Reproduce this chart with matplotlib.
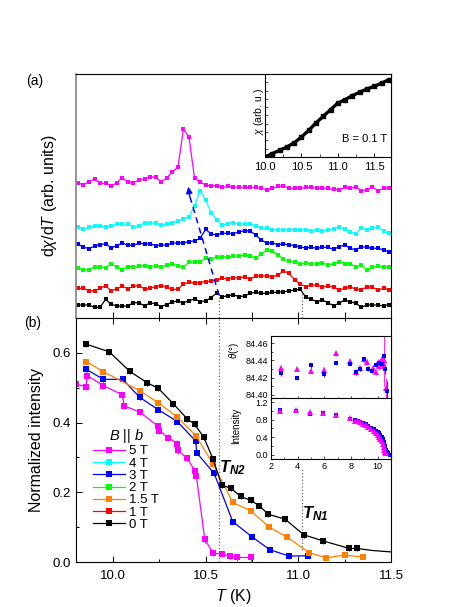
import matplotlib
matplotlib.use("Agg")
import matplotlib.pyplot as plt
from matplotlib.lines import Line2D
from matplotlib.ticker import MultipleLocator, FormatStrFormatter

plt.rcParams["font.family"] = ["Liberation Sans", "DejaVu Sans"]
plt.rcParams["mathtext.fontset"] = "custom"
plt.rcParams["mathtext.rm"] = "Liberation Sans"
plt.rcParams["mathtext.it"] = "Liberation Sans:italic"
plt.rcParams["mathtext.bf"] = "Liberation Sans:bold"
plt.rcParams["mathtext.bfit"] = "Liberation Sans:bold:italic"
plt.rcParams["xtick.direction"] = "in"
plt.rcParams["ytick.direction"] = "in"
plt.rcParams["axes.linewidth"] = 0.8

# ---- (a) dchi/dT, curves offset (arb. units) ----
T_a = [9.81, 9.84, 9.87, 9.90, 9.93, 9.96, 9.99, 10.02, 10.05, 10.08,
       10.11, 10.14, 10.17, 10.20, 10.23, 10.26, 10.29, 10.32, 10.35, 10.38,
       10.41, 10.44, 10.47, 10.50, 10.53, 10.56, 10.59, 10.62, 10.65, 10.68,
       10.71, 10.74, 10.77, 10.80, 10.83, 10.86, 10.89, 10.92, 10.95, 10.98,
       11.01, 11.04, 11.07, 11.10, 11.13, 11.16, 11.19, 11.22, 11.25, 11.28,
       11.31, 11.34, 11.37, 11.40, 11.43, 11.46, 11.49]

a_0T = [13, 13, 13, 10.7, 10.7, 18.7, 13.7, 12, 12, 12, 15.3, 15.3, 12, 15.3,
        14, 11.5, 13.5, 16, 17, 15, 17.5, 19, 16.5, 17, 20.5, 25, 21, 22.5,
        23, 21.5, 22, 24.7, 25.7, 24.7, 24.7, 25.7, 25.7, 26.3, 27, 28, 28.7,
        21, 18.7, 16.3, 18, 15.3, 12.3, 14.7, 18, 16.3, 14.7, 10.7, 13, 13, 13, 12, 13.5]
a_1T = [29.7, 29.7, 27.3, 27.2, 29.7, 32.3, 27.3, 29.3, 31.7, 29.3, 31.7, 32.5, 29, 29.7,
        31.5, 32.5, 31, 28.7, 28.7, 34, 36, 35, 35.5, 36.5, 37, 38, 39.7, 39.5,
        40.5, 40, 41.3, 38.7, 42, 42, 42, 41.3, 43, 47, 44.7, 38, 34, 31.3,
        33, 33, 31.3, 32, 31.3, 28, 29.7, 31.3, 28.7, 28, 31.3, 30.7, 28, 29.7, 28]
a_2T = [50, 48.5, 48, 51.5, 51, 50.5, 54, 51, 48.5, 51.5, 51.5, 52, 52.5, 51.5,
        52.5, 51.3, 53, 54.5, 51.7, 51.3, 55.8, 55.8, 56.3, 60.2, 59.2, 61, 61.3, 61,
        62, 62, 63, 62, 60, 64, 68, 67, 63, 59, 57, 56, 54, 54.7,
        54, 54, 55.3, 53, 54, 56.3, 54, 54, 51.3, 53, 48, 50.7, 52, 50.7, 51]
a_3T = [74, 71, 69.3, 72, 73.5, 74.2, 70.3, 72.3, 75, 72.7, 72.8, 74.7, 74.2, 74.2,
        72.5, 73, 73, 74.7, 75.3, 75.3, 76.3, 77.3, 79.7, 88.7, 84, 83, 84.7, 84.7,
        84.5, 86, 87.5, 87, 83, 78, 75, 75, 73.5, 74, 73, 72.5, 71, 70,
        70.7, 69.7, 70.7, 70.7, 68.7, 71.3, 73, 69.7, 68, 71.3, 70.7, 69.7, 69.7, 68, 66.5]
a_4T = [91.3, 89, 90.7, 92.3, 92, 91.3, 92.3, 93.7, 94, 93.7, 91.3, 92, 95.3, 95.3,
        94.7, 93, 94, 95.3, 97.3, 99, 101.3, 112, 127.3, 118, 105, 98, 93, 94.5,
        95, 94, 94.5, 94, 92, 90, 89.7, 88.5, 88, 88, 88, 88.5, 88, 88,
        87.5, 88, 87.3, 88, 89, 91.3, 88.7, 86, 84, 89.7, 88, 89.7, 91, 87, 84.7]
a_5T = [135.3, 133, 136.3, 139, 134.7, 134.7, 132, 135.3, 140.3, 135.7, 135.3, 138, 139, 141.3,
        140.7, 136.3, 140, 146.3, 150.5, 188.7, 181, 139.7, 136, 133, 132.3, 132.3, 130.5, 131.5,
        131, 131, 130.5, 130.5, 130.5, 129.5, 128, 129.5, 131.5, 132, 129.7, 129.7, 129.7, 130.5,
        130.5, 129.7, 129.7, 129.7, 128.7, 128, 130.7, 129.7, 131.3, 127.3, 128, 131.3, 127.3, 129.7, 129.7]

# inset of (a): chi at B = 0.1 T
T_chi = [10.0, 10.1, 10.2, 10.3, 10.4, 10.5, 10.6, 10.7, 10.8, 10.9,
         11.0, 11.1, 11.2, 11.3, 11.4, 11.5, 11.6, 11.7]
chi = [0.0, 0.04, 0.08, 0.12, 0.17, 0.24, 0.32, 0.41, 0.49, 0.57,
       0.65, 0.69, 0.74, 0.78, 0.82, 0.85, 0.89, 0.93]

# ---- (b) normalized intensity ----
T_b0 = [9.855, 9.98, 10.09, 10.185, 10.245, 10.325, 10.40, 10.44, 10.49, 10.54,
        10.587, 10.636, 10.689, 10.743, 10.788, 10.838, 10.928, 11.03, 11.131, 11.275, 11.315]
I_b0 = [0.625, 0.603, 0.547, 0.514, 0.498, 0.454, 0.411, 0.395, 0.358, 0.295,
        0.220, 0.212, 0.188, 0.177, 0.162, 0.137, 0.123, 0.078, 0.061, 0.039, 0.039]
T_b0_tail = [11.315, 11.40, 11.50]
I_b0_tail = [0.039, 0.033, 0.029]

T_b15 = [9.855, 9.948, 10.145, 10.244, 10.347, 10.448, 10.541, 10.646, 10.743,
         10.843, 10.94, 11.059, 11.149, 11.252, 11.347]
I_b15 = [0.575, 0.546, 0.491, 0.457, 0.416, 0.362, 0.280, 0.171, 0.147,
         0.100, 0.071, 0.027, 0.012, 0.020, 0.014]

T_b3 = [9.855, 9.948, 10.052, 10.145, 10.244, 10.347, 10.446, 10.452, 10.546,
        10.646, 10.748, 10.847, 10.951, 11.053]
I_b3 = [0.553, 0.524, 0.524, 0.472, 0.437, 0.403, 0.347, 0.313, 0.254,
        0.116, 0.073, 0.035, 0.017, 0.018]

T_b5 = [9.80, 9.855, 9.86, 9.948, 10.05, 10.06, 10.145, 10.244, 10.25, 10.298,
        10.347, 10.35, 10.397, 10.445, 10.45, 10.495, 10.541, 10.586, 10.63, 10.67, 10.743]
I_b5 = [0.51, 0.503, 0.535, 0.506, 0.48, 0.448, 0.43, 0.389, 0.377, 0.357,
        0.34, 0.32, 0.299, 0.26, 0.246, 0.065, 0.025, 0.023, 0.017, 0.013, 0.013]

T_N2 = 10.573
T_N1 = 11.02

# inset of (b): theta and intensity vs T (2-11 K)
T_th_sq = [2.72, 3.92, 4.99, 5.98, 6.9, 7.9, 8.4, 8.7, 9.0, 9.3, 9.6, 9.9,
           10.1, 10.3, 10.45, 10.55, 10.7]
th_sq = [84.425, 84.4195, 84.434, 84.424, 84.4365, 84.436, 84.426, 84.43, 84.441,
         84.43, 84.428, 84.435, 84.437, 84.436, 84.445, 84.43, 84.404]
th_sq_err = [0.003, 0.002, 0.003, 0.003, 0.002, 0.002, 0.003, 0.003, 0.003,
             0.003, 0.003, 0.003, 0.003, 0.004, 0.004, 0.006, 0.012]
T_th_tr = [2.72, 3.92, 4.99, 5.98, 6.9, 7.9, 8.34, 8.69, 8.94, 9.19, 9.64, 9.9,
           10.0, 10.1, 10.2, 10.3, 10.4, 10.45, 10.5, 10.6]
th_tr = [84.431, 84.430, 84.428, 84.429, 84.448, 84.439, 84.426, 84.431, 84.441,
         84.438, 84.431, 84.426, 84.437, 84.433, 84.438, 84.442, 84.436, 84.433, 84.44, 84.408]
th_tr_err = [0.003, 0.002, 0.003, 0.003, 0.003, 0.003, 0.003, 0.003, 0.003,
             0.003, 0.003, 0.003, 0.004, 0.004, 0.004, 0.004, 0.005, 0.006, 0.03, 0.012]

T_int_sq = [2.7, 3.9, 4.9, 5.9, 6.9, 7.9, 8.3, 8.5, 8.7, 8.9, 9.1, 9.3, 9.5, 9.7,
            9.9, 10.0, 10.1, 10.2, 10.3, 10.4, 10.5, 10.55, 10.6, 10.65, 10.7, 10.8, 10.9]
int_sq = [1.02, 1.01, 0.94, 0.95, 0.90, 0.82, 0.79, 0.77, 0.75, 0.72, 0.69, 0.66, 0.62,
          0.59, 0.55, 0.52, 0.49, 0.45, 0.41, 0.36, 0.28, 0.20, 0.10, 0.08, 0.06, 0.03, 0.0]
T_int_tr = [2.7, 3.9, 4.9, 5.9, 6.9, 7.9, 8.3, 8.5, 8.7, 8.9, 9.1, 9.3, 9.5, 9.7,
            9.85, 10.0, 10.1, 10.2, 10.3, 10.4, 10.45, 10.5, 10.55, 10.6, 10.65]
int_tr = [1.0, 1.02, 0.97, 0.95, 0.91, 0.85, 0.77, 0.76, 0.74, 0.71, 0.67, 0.63, 0.58,
          0.54, 0.50, 0.45, 0.41, 0.36, 0.30, 0.24, 0.18, 0.10, 0.05, 0.04, 0.04]

field_labels = ["5 T", "4 T", "3 T", "2 T", "1.5 T", "1 T", "0 T"]
colors = {"5 T": "#ff00ff", "4 T": "#00ffff", "3 T": "#0000ff", "2 T": "#00ff00",
          "1.5 T": "#ff8000", "1 T": "#ff0000", "0 T": "#000000"}

fig = plt.figure(figsize=(4.69, 6.07), dpi=100)

# ---------------- panel (a) ----------------
ax_a = fig.add_axes([0.162, 0.4761, 0.6716, 0.402])
for lab, vals in [("0 T", a_0T), ("1 T", a_1T), ("2 T", a_2T),
                  ("3 T", a_3T), ("4 T", a_4T), ("5 T", a_5T)]:
    ax_a.plot(T_a, vals, "-s", color=colors[lab], ms=3.4, lw=0.9, mew=0)
ax_a.set_xlim(9.8, 11.5)
ax_a.set_ylim(0, 244)
ax_a.xaxis.set_major_locator(MultipleLocator(0.25))
ax_a.tick_params(axis="x", labelbottom=False, length=4, width=0.7)
ax_a.set_yticks([])
ax_a.spines["left"].set_color("0.55")
ax_a.spines["left"].set_linewidth(1.3)
ax_a.set_ylabel(r"d$\chi$/d$T$ (arb. units)", fontsize=11.5, va="center")
ax_a.yaxis.set_label_coords(-0.083, 0.5)
ax_a.plot([T_N2, T_N2], [0, 24], ":", color="0.4", lw=0.9)
ax_a.plot([T_N1, T_N1], [0, 26], ":", color="0.4", lw=0.9)
# dashed guide arrow
ax_a.plot([10.572, 10.414], [23, 122], "--", color="#0000ff", lw=1.1, dashes=(4, 3))
ax_a.annotate("", xy=(10.404, 134), xytext=(10.416, 119),
              arrowprops=dict(arrowstyle="-|>", color="#0000ff", lw=1.1,
                              mutation_scale=9))

# inset of (a)
ax_chi = fig.add_axes([0.565, 0.7414, 0.2687, 0.1367])
ax_chi.plot(T_chi, chi, "-s", color="k", lw=2.4, ms=3.2)
ax_chi.set_xlim(10.0, 11.73)
ax_chi.set_ylim(0, 1.0)
ax_chi.xaxis.set_major_locator(MultipleLocator(0.5))
ax_chi.xaxis.set_minor_locator(MultipleLocator(0.25))
ax_chi.set_yticks([])
ax_chi.yaxis.set_minor_locator(MultipleLocator(0.1))
ax_chi.tick_params(axis="x", which="major", labelsize=8, length=3, width=0.6)
ax_chi.tick_params(axis="x", which="minor", length=2, width=0.5)
ax_chi.tick_params(axis="y", which="minor", length=2, width=0.5)
ax_chi.xaxis.set_major_formatter(FormatStrFormatter("%.1f"))
ax_chi.set_ylabel(r"$\chi$ (arb. u.)", fontsize=7.5, va="center")
ax_chi.yaxis.set_label_coords(-0.05, 0.55)
ax_chi.text(0.79, 0.22, "B = 0.1 T", transform=ax_chi.transAxes,
            fontsize=8, ha="center", va="center")

# ---------------- panel (b) ----------------
ax_b = fig.add_axes([0.162, 0.0741, 0.6716, 0.402])
eb = dict(ms=3.8, lw=0.9, capsize=1.6, elinewidth=0.7, capthick=0.7, mew=0)
ax_b.errorbar(T_b5, I_b5, yerr=0.009, fmt="-s", color=colors["5 T"], **eb)
ax_b.errorbar(T_b3, I_b3, yerr=0.007, fmt="-s", color=colors["3 T"], **eb)
ax_b.errorbar(T_b15, I_b15, yerr=0.006, fmt="-s", color=colors["1.5 T"], **eb)
ax_b.errorbar(T_b0, I_b0, yerr=0.008, fmt="-s", color=colors["0 T"], **eb)
ax_b.plot(T_b0_tail, I_b0_tail, "-", color="k", lw=0.9)
ax_b.plot([T_N2, T_N2], [0, 0.7], ":", color="0.4", lw=0.9)
ax_b.plot([T_N1, T_N1], [0.035, 0.27], ":", color="0.4", lw=0.9)
ax_b.set_xlim(9.8, 11.5)
ax_b.set_ylim(0, 0.7)
ax_b.xaxis.set_major_locator(MultipleLocator(0.5))
ax_b.xaxis.set_minor_locator(MultipleLocator(0.25))
ax_b.yaxis.set_major_locator(MultipleLocator(0.2))
ax_b.yaxis.set_minor_locator(MultipleLocator(0.1))
ax_b.xaxis.set_major_formatter(FormatStrFormatter("%.1f"))
ax_b.yaxis.set_major_formatter(FormatStrFormatter("%.1f"))
ax_b.tick_params(which="both", top=True, labelsize=9.5, width=0.7)
ax_b.tick_params(axis="x", pad=6)
ax_b.tick_params(which="major", length=4)
ax_b.tick_params(which="minor", length=2.5)
ax_b.set_xlabel(r"$T$ (K)", fontsize=11.5, va="center")
ax_b.xaxis.set_label_coords(0.5, -0.143)
ax_b.set_ylabel("Normalized intensity", fontsize=11.5, va="center")
ax_b.yaxis.set_label_coords(-0.124, 0.5)
ax_b.text(10.645, 0.272, r"$\mathbfit{T}_{\mathbfit{N2}}$", fontsize=12, ha="center", va="center")
ax_b.text(11.09, 0.14, r"$\mathbfit{T}_{\mathbfit{N1}}$", fontsize=12, ha="center", va="center")

handles = [Line2D([], [], color=colors[lab], marker="s", ms=3.8, lw=0.9, mew=0)
           for lab in field_labels]
ax_b.legend(handles, field_labels, loc="upper left", bbox_to_anchor=(0.03, 0.585),
            frameon=False, fontsize=9.5, handlelength=2.4, handletextpad=0.3,
            labelspacing=0.0, numpoints=1, borderaxespad=0.2,
            title=r"$B$ || $b$", title_fontsize=10.5)

# inset of (b): theta (top) and intensity (bottom)
ax_th = fig.add_axes([0.578, 0.342, 0.256, 0.104])
ax_th.errorbar(T_th_tr, th_tr, yerr=th_tr_err, fmt="^", color="#ff00ff", ms=3.8,
               capsize=1.5, elinewidth=0.6, mew=0)
ax_th.errorbar(T_th_sq, th_sq, yerr=th_sq_err, fmt="s", color="#0000ff", ms=3.4,
               capsize=1.5, elinewidth=0.6, mew=0)
ax_th.set_xlim(2, 11)
ax_th.set_ylim(84.3945, 84.468)
ax_th.set_yticks([84.40, 84.42, 84.44, 84.46])
ax_th.yaxis.set_major_formatter(FormatStrFormatter("%.2f"))
ax_th.yaxis.set_minor_locator(MultipleLocator(0.01))
ax_th.xaxis.set_major_locator(MultipleLocator(2))
ax_th.xaxis.set_minor_locator(MultipleLocator(1))
ax_th.tick_params(which="both", labelbottom=False, labelsize=6.5, width=0.5, pad=2)
ax_th.tick_params(which="major", length=2.5)
ax_th.tick_params(which="minor", length=1.5)
ax_th.set_ylabel(r"$\theta$(°)", fontsize=7, va="center")
ax_th.yaxis.set_label_coords(-0.31, 0.78)

ax_in = fig.add_axes([0.578, 0.244, 0.256, 0.0997])
ax_in.errorbar(T_int_sq, int_sq, yerr=0.02, fmt="s", color="#0000ff", ms=3.4,
               capsize=1.2, elinewidth=0.5, mew=0)
ax_in.errorbar(T_int_tr, int_tr, yerr=0.02, fmt="^", color="#ff00ff", ms=3.8,
               capsize=1.2, elinewidth=0.5, mew=0)
ax_in.set_xlim(2, 11)
ax_in.set_ylim(-0.1, 1.29)
ax_in.set_yticks([0.0, 0.4, 0.8, 1.2])
ax_in.yaxis.set_major_formatter(FormatStrFormatter("%.1f"))
ax_in.yaxis.set_minor_locator(MultipleLocator(0.2))
ax_in.xaxis.set_major_locator(MultipleLocator(2))
ax_in.xaxis.set_minor_locator(MultipleLocator(1))
ax_in.tick_params(which="both", labelsize=6.5, width=0.5, pad=2)
ax_in.tick_params(which="major", length=2.5)
ax_in.tick_params(which="minor", length=1.5)
ax_in.set_ylabel("Intensity", fontsize=7, va="center")
ax_in.yaxis.set_label_coords(-0.29, 0.55)

fig.text(0.075, 0.867, "(a)", fontsize=10, ha="center", va="center")
fig.text(0.070, 0.468, "(b)", fontsize=10, ha="center", va="center")

fig.savefig("out.png", dpi=100, facecolor="white")
